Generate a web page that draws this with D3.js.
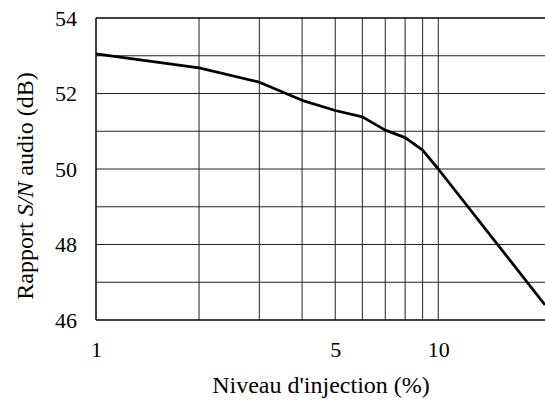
<!DOCTYPE html>
<html>
<head>
<meta charset="utf-8">
<script src="https://cdn.jsdelivr.net/npm/d3@7"></script>
</head>
<body style="margin:0">
<svg id="chart" width="545" height="403"></svg>
<script>
// Data
const injection = [1, 2, 3, 4, 5, 6, 7, 8, 9, 10, 20.5];
const snr = [53.05, 52.68, 52.3, 51.82, 51.55, 51.38, 51.03, 50.83, 50.5, 50.0, 46.4];
const xTicks = [1, 5, 10];
const xGrid = [2, 3, 4, 5, 6, 7, 8, 9, 10];
const yTicks = [46, 48, 50, 52, 54];
const yGrid = [47, 48, 49, 50, 51, 52, 53];
const xTitle = "Niveau d'injection (%)";

const W = 545, H = 403;
const m = { left: 96, right: 0, top: 18, bottom: 83 };
const svg = d3.select("#chart");
const FONT = '"Liberation Serif"';

const x = d3.scaleLog().domain([1, 20.5]).range([m.left, W - m.right]);
const y = d3.scaleLinear().domain([46, 54]).range([H - m.bottom, m.top]);

const g = svg.append("g");

// grid
g.selectAll(".vg").data(xGrid).enter().append("line")
  .attr("x1", d => x(d)).attr("x2", d => x(d))
  .attr("y1", y(46)).attr("y2", y(54))
  .attr("stroke", "#222").attr("stroke-width", 1);
g.selectAll(".hg").data(yGrid).enter().append("line")
  .attr("x1", x(1)).attr("x2", W)
  .attr("y1", d => y(d)).attr("y2", d => y(d))
  .attr("stroke", "#222").attr("stroke-width", 1);

// frame (left, top, bottom)
g.append("line").attr("x1", x(1)).attr("x2", x(1)).attr("y1", y(46)).attr("y2", y(54))
  .attr("stroke", "#000").attr("stroke-width", 1.5);
g.append("line").attr("x1", x(1)).attr("x2", W).attr("y1", y(54)).attr("y2", y(54))
  .attr("stroke", "#000").attr("stroke-width", 1.5);
g.append("line").attr("x1", x(1)).attr("x2", W).attr("y1", y(46)).attr("y2", y(46))
  .attr("stroke", "#000").attr("stroke-width", 1.5);

// axes labels via d3 axes (no lines)
const xAxis = d3.axisBottom(x).tickValues(xTicks).tickFormat(d3.format("d")).tickSize(0).tickPadding(21);
const xa = svg.append("g").attr("transform", `translate(0,${y(46)})`).call(xAxis);
xa.select(".domain").remove();
xa.selectAll("text").attr("fill", "#000").attr("font-family", FONT).attr("font-size", 22);

const yAxis = d3.axisLeft(y).tickValues(yTicks).tickFormat(d3.format("d")).tickSize(0).tickPadding(19);
const ya = svg.append("g").attr("transform", `translate(${x(1)},0)`).call(yAxis);
ya.select(".domain").remove();
ya.selectAll("text").attr("fill", "#000").attr("font-family", FONT).attr("font-size", 22);

// line
const line = d3.line().x((d, i) => x(injection[i])).y(d => y(d));
svg.append("path").datum(snr).attr("d", line)
  .attr("fill", "none").attr("stroke", "#000").attr("stroke-width", 2.8)
  .attr("stroke-linejoin", "round");

// titles
svg.append("text").attr("x", 321).attr("y", 393).attr("text-anchor", "middle")
  .attr("font-family", FONT).attr("font-size", 24).attr("fill", "#000").text(xTitle);

const yt = svg.append("text").attr("transform", "translate(33,186) rotate(-90)")
  .attr("text-anchor", "middle").attr("font-family", FONT).attr("font-size", 24).attr("fill", "#000");
yt.append("tspan").text("Rapport ");
yt.append("tspan").attr("font-style", "italic").text("S/N");
yt.append("tspan").text(" audio (dB)");
</script>
</body>
</html>
